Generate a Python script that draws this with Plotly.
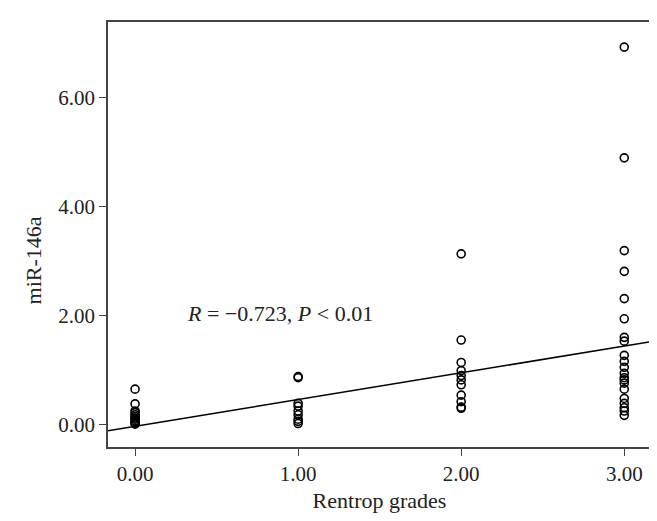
import plotly.graph_objects as go

# Data
grade0 = [0.65, 0.38, 0.25, 0.22, 0.18, 0.15, 0.12, 0.10, 0.07, 0.05, 0.03, 0.01]
grade1 = [0.88, 0.86, 0.39, 0.34, 0.25, 0.18, 0.10, 0.06, 0.02]
grade2 = [3.13, 1.55, 1.14, 0.99, 0.90, 0.82, 0.73, 0.54, 0.42, 0.32, 0.30]
grade3 = [6.92, 4.89, 3.19, 2.81, 2.31, 1.94, 1.60, 1.53, 1.27, 1.16, 1.05,
          0.94, 0.86, 0.82, 0.76, 0.65, 0.48, 0.39, 0.31, 0.25, 0.17]
grades = [0, 1, 2, 3]
tick_vals_x = [0, 1, 2, 3]
tick_text_x = ["0.00", "1.00", "2.00", "3.00"]
tick_vals_y = [0, 2, 4, 6]
tick_text_y = ["0.00", "2.00", "4.00", "6.00"]
fit_intercept = -0.03
fit_slope = 0.49
x_range = [-0.166, 3.164]
y_range = [-0.41, 7.38]

xs, ys = [], []
for g, vals in zip(grades, [grade0, grade1, grade2, grade3]):
    xs += [g] * len(vals)
    ys += vals

FONT = "Liberation Serif, Times New Roman, serif"
TXT = "#222"

fig = go.Figure()
line_x = x_range
line_y = [fit_intercept + fit_slope * v for v in line_x]
fig.add_trace(go.Scatter(x=line_x, y=line_y, mode="lines",
                         line=dict(color="black", width=1.5), hoverinfo="skip"))
fig.add_trace(go.Scatter(x=xs, y=ys, mode="markers",
                         marker=dict(symbol="circle-open", size=8, color="black",
                                     line=dict(width=1.6, color="black"))))

axis_common = dict(showgrid=False, zeroline=False, showline=True, mirror=True,
                   linecolor="#444", linewidth=1.5, ticks="outside", ticklen=7,
                   tickwidth=1.2, tickcolor="#444",
                   tickfont=dict(family=FONT, size=21, color=TXT))

fig.update_xaxes(range=x_range, tickvals=tick_vals_x, ticktext=tick_text_x,
                 title=dict(text="Rentrop grades", font=dict(family=FONT, size=22, color=TXT),
                            standoff=8),
                 **axis_common)
fig.update_yaxes(range=y_range, tickvals=tick_vals_y, ticktext=tick_text_y,
                 **axis_common)

fig.add_annotation(x=-0.138, y=3.01, xref="paper", yref="y", text="miR-146a",
                   textangle=-90, showarrow=False,
                   font=dict(family=FONT, size=22, color=TXT),
                   xanchor="center", yanchor="middle")
fig.add_annotation(x=0.307, y=2.04, xref="x", yref="y",
                   text="<i>R</i> = −0.723, <i>P</i> &lt; 0.01",
                   showarrow=False, xanchor="left", yanchor="middle",
                   font=dict(family=FONT, size=22, color=TXT))

fig.update_layout(width=657, height=521, plot_bgcolor="white", paper_bgcolor="white",
                  showlegend=False, margin=dict(l=100, r=14, t=14, b=82))

fig.write_html("out.html")
